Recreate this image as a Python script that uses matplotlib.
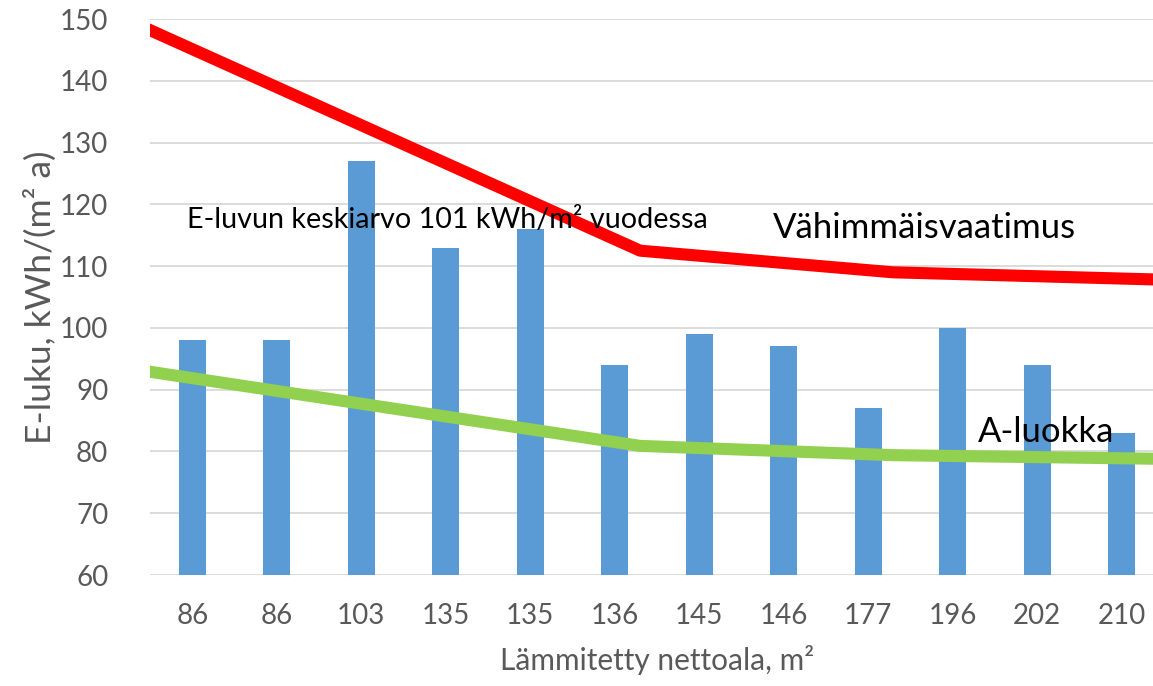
#!/usr/bin/env python3

import numpy as np
from matplotlib import pyplot as plt

# Bars: E-luku per house, labelled by heated net area
areas = ['86', '86', '103', '135', '135', '136', '145', '146', '177', '196', '202', '210']
e_values = [98, 98, 127, 113, 116, 94, 99, 97, 87, 100, 94, 83]

# Requirement lines, positions in category units
limit_x = [-0.5, 5.3, 8.29, 11.5]
limit_min = [148.2, 112.5, 109.0, 107.8]   # Vähimmäisvaatimus
limit_a = [92.9, 80.9, 79.4, 78.8]         # A-luokka

plt.rcParams['font.family'] = ['Lato', 'DejaVu Sans']

W, H = 1153, 686
fig = plt.figure(figsize=(W / 100, H / 100), dpi=100)
# plot area runs past the right edge of the picture, like the original crop
ax = fig.add_axes([150 / W, (H - 575) / H, (1164 - 150) / W, (575 - 19) / H])

x = np.arange(len(areas))
ax.bar(x, e_values, width=0.32, color='#5b9bd5', zorder=2)
ax.plot(limit_x, limit_min, color='#ff0000', lw=8.7, solid_joinstyle='round', zorder=3)
ax.plot(limit_x, limit_a, color='#92d050', lw=8.7, solid_joinstyle='round', zorder=3)

ax.set_xlim(-0.5, len(areas) - 0.5)
ax.set_ylim(60, 150)
ax.set_yticks(range(60, 151, 10))
ax.set_xticks(x)
ax.set_xticklabels(areas)
ax.grid(axis='y', color='#d9d9d9', lw=1.3, zorder=0)
for s in ax.spines.values():
    s.set_visible(False)
ax.tick_params(length=0, labelsize=20, labelcolor='#595959')
ax.tick_params(axis='y', pad=30)
ax.tick_params(axis='x', pad=20)

ax.set_ylabel('E-luku, kWh/(m² a)', fontsize=25.5, color='#595959', labelpad=2)
ax.set_xlabel('Lämmitetty nettoala, m²', fontsize=21.5, color='#595959', labelpad=12)

ax.text(-0.06, 117.5, 'E-luvun keskiarvo 101 kWh/m² vuodessa', fontsize=20.7,
        va='center', ha='left', zorder=4)
ax.text(6.87, 116.2, 'Vähimmäisvaatimus', fontsize=25, va='center', ha='left', zorder=4)
ax.text(9.3, 83.2, 'A-luokka', fontsize=25, va='center', ha='left', zorder=4)

fig.savefig('out.png', dpi=100)
